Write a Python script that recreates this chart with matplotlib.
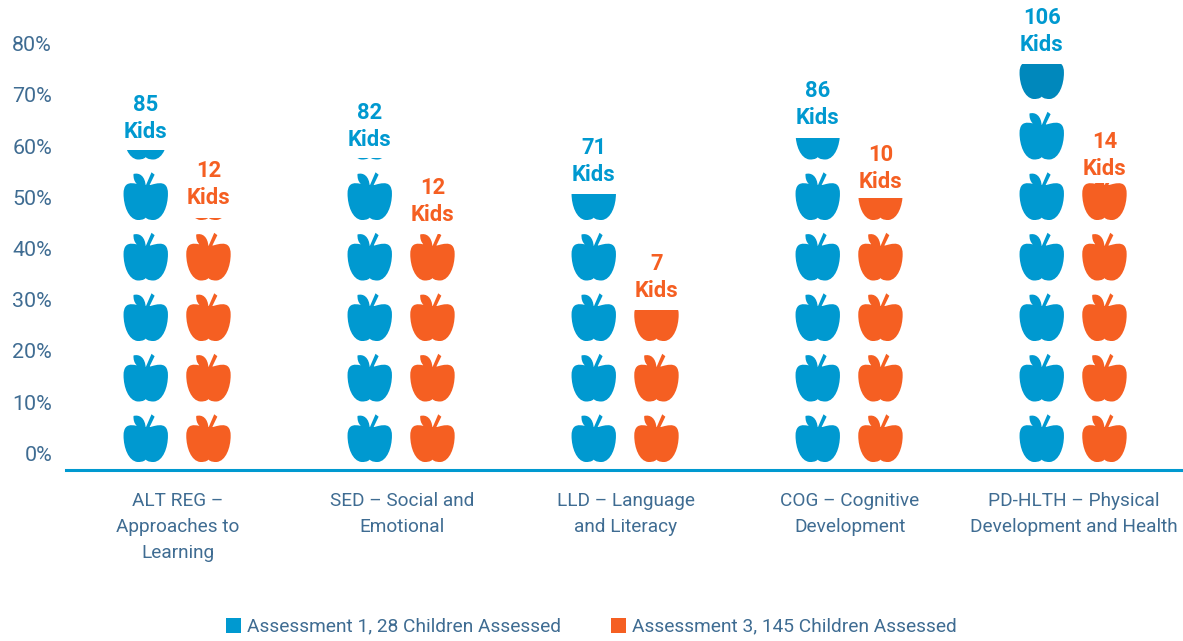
import matplotlib
matplotlib.use("Agg")
import matplotlib.pyplot as plt
import numpy as np
from matplotlib.path import Path
from matplotlib.patches import PathPatch, Rectangle
from matplotlib.transforms import ScaledTranslation, Affine2D

categories = [
    "ALT REG –\nApproaches to\nLearning",
    "SED – Social and\nEmotional",
    "LLD – Language\nand Literacy",
    "COG – Cognitive\nDevelopment",
    "PD-HLTH – Physical\nDevelopment and Health",
]
assessment_1 = [62.4, 60.8, 53.9, 64.8, 79.2]
assessment_3 = [49.2, 46.0, 31.2, 53.0, 56.0]
kids_1 = [85, 82, 71, 86, 106]
kids_3 = [12, 12, 7, 10, 14]
y_ticks = [0, 10, 20, 30, 40, 50, 60, 70, 80]
legend_labels = ["Assessment 1, 28 Children Assessed", "Assessment 3, 145 Children Assessed"]

# gap in px between the apple stack top and the "Kids" line centre
label_gap_1 = [20, 20, 21, 22, 21]
label_gap_3 = [22, 21, 21, 18, 16]

BLUE = "#0099d0"
ORANGE = "#f55f22"
TEXT = "#3f6c92"

plt.rcParams["font.family"] = ["Roboto", "DejaVu Sans"]

# apple outline: body, leaf, stem. x is -1..1 of half width, y 0 (bottom) .. 1 (stem tip)
body_verts = [
    (0, 0.05),
    (-0.1, 0.0), (-0.25, 0.0), (-0.37, 0.0),
    (-0.78, 0.02), (-1.0, 0.30), (-1.0, 0.55),
    (-1.0, 0.72), (-0.85, 0.78), (-0.6, 0.77),
    (-0.4, 0.77), (-0.2, 0.72), (0, 0.72),
    (0.2, 0.72), (0.4, 0.77), (0.6, 0.77),
    (0.85, 0.78), (1.0, 0.72), (1.0, 0.55),
    (1.0, 0.30), (0.78, 0.02), (0.37, 0.0),
    (0.25, 0.0), (0.1, 0.0), (0, 0.05),
]
leaf_verts = [
    (0.0, 0.70),
    (-0.35, 0.68), (-0.58, 0.80), (-0.55, 0.965),
    (-0.28, 1.0), (-0.02, 0.92), (0.0, 0.70),
]
stem_verts = [(0.0, 0.72), (0.26, 1.0), (0.40, 0.95), (0.14, 0.70), (0.0, 0.72)]
apple_path = Path.make_compound_path(
    Path(body_verts, [Path.MOVETO] + [Path.CURVE4] * (len(body_verts) - 1)),
    Path(leaf_verts, [Path.MOVETO] + [Path.CURVE4] * (len(leaf_verts) - 1)),
    Path(stem_verts, [Path.MOVETO] + [Path.LINETO] * (len(stem_verts) - 1)),
)

w, h = 1183, 641
fig = plt.figure(figsize=(w / 100, h / 100), dpi=100)
ax = fig.add_axes([66 / w, (h - 470) / h, (w - 66) / w, 470 / h])
px_per_unit = 5.125
ax.set_xlim(0, (w - 66) / 224)
ax.set_ylim(0, 470 / px_per_unit)

apple_half_w = 22.2 / 224
apple_h = 47.7 / px_per_unit
apple_step = 60.5 / px_per_unit
apple_base = 8.0 / px_per_unit


def draw_apples(xc, value, color, top_color=None):
    clip = Rectangle((xc - 0.2, 0), 0.4, value, transform=ax.transData)
    n = int(np.ceil((value - apple_base) / apple_step))
    for i in range(n):
        tr = Affine2D().scale(apple_half_w, apple_h).translate(xc, apple_base + i * apple_step)
        c = top_color if (top_color and i == n - 1) else color
        p = PathPatch(apple_path, transform=tr + ax.transData, facecolor=c, edgecolor="none")
        ax.add_patch(p)
        p.set_clip_path(clip)


def draw_label(x, value, count, gap, color):
    # anchor on the baseline of the "Kids" line
    y = value + (gap - 8) / px_per_unit
    ax.text(x, y, f"{count}\nKids", ha="center", va="baseline", color=color,
            fontsize=15.8, fontweight="bold", linespacing=1.3, clip_on=False)


for i, cat in enumerate(categories):
    xc = i + 0.5 - 0.004
    x1, x3 = xc - 0.14, xc + 0.14
    draw_apples(x1, assessment_1[i], BLUE, "#0088bc" if i == 4 else None)
    draw_apples(x3, assessment_3[i], ORANGE)
    draw_label(x1, assessment_1[i], kids_1[i], label_gap_1[i], BLUE)
    draw_label(x3, assessment_3[i], kids_3[i], label_gap_3[i], ORANGE)

for s in ["top", "right", "left"]:
    ax.spines[s].set_visible(False)
ax.spines["bottom"].set_color(BLUE)
ax.spines["bottom"].set_linewidth(2.2)

ax.set_xticks(np.arange(len(categories)) + 0.5)
ax.set_xticklabels(categories, fontsize=13.7, color=TEXT, linespacing=1.58)
ax.set_yticks(y_ticks)
ax.set_yticklabels([f"{v}%" for v in y_ticks], fontsize=15.4, color=TEXT)
ax.tick_params(axis="both", length=0)
ax.tick_params(axis="x", pad=16)
ax.tick_params(axis="y", pad=10)
for lab in ax.get_yticklabels():
    lab.set_transform(lab.get_transform() + ScaledTranslation(0, 0.165, fig.dpi_scale_trans))

for lx, label, color in zip([226, 611], legend_labels, [BLUE, ORANGE]):
    fig.patches.append(Rectangle((lx / w, (h - 633) / h), 15 / w, 15 / h, transform=fig.transFigure,
                                 facecolor=color, edgecolor="none"))
    fig.text((lx + 21) / w, (h - 626) / h, label, fontsize=13.75, color=TEXT,
             ha="left", va="center")

fig.savefig("out.png", dpi=100)
